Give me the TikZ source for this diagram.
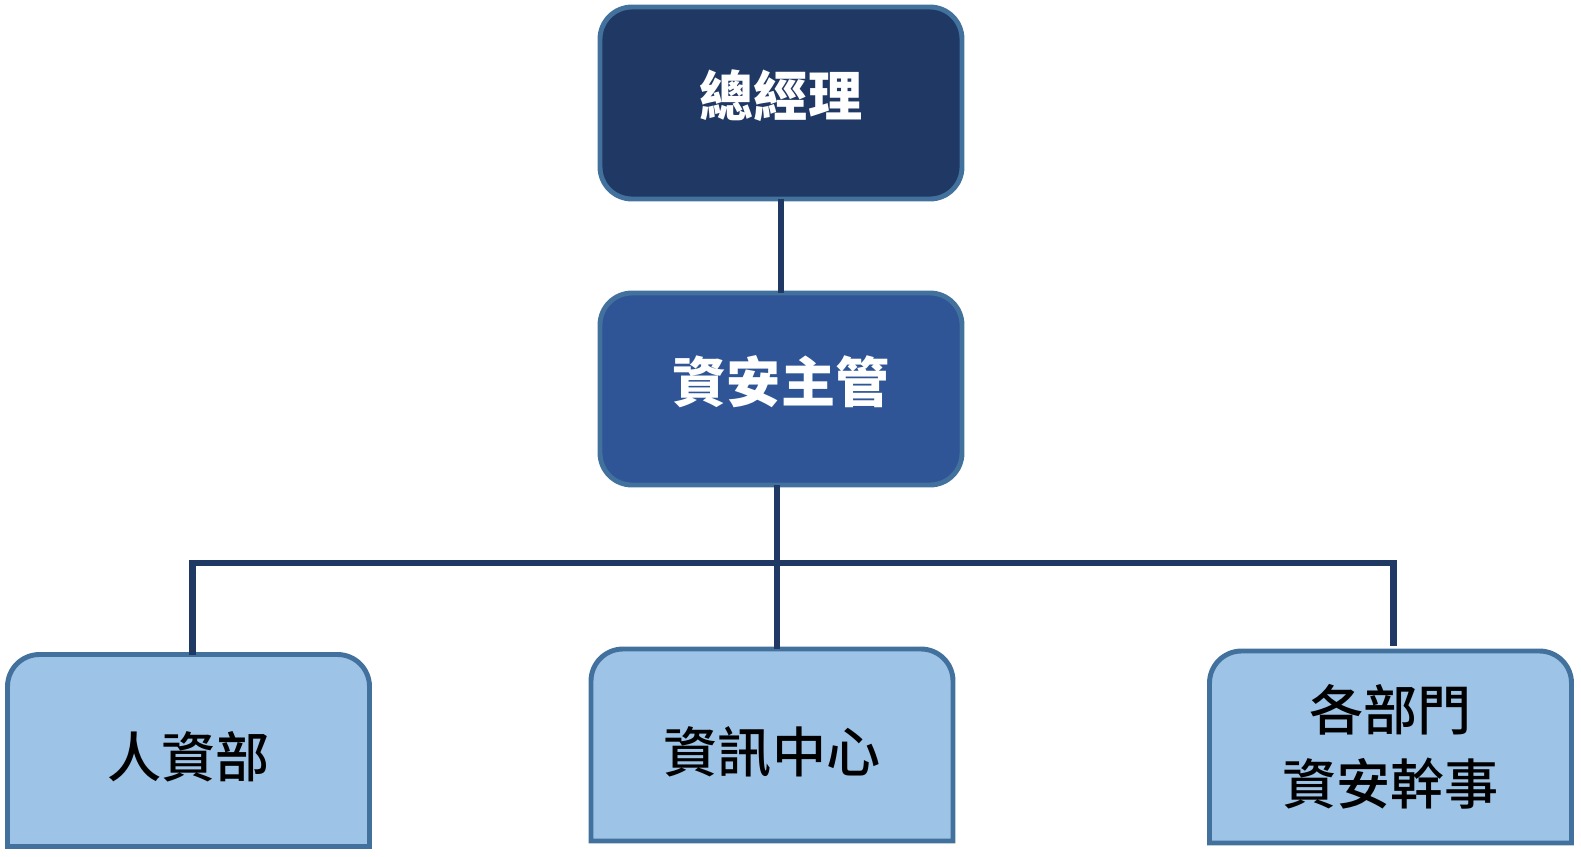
\documentclass[tikz,border=0pt]{standalone}
\usepackage{fontspec}
\newfontfamily\cjk{Noto Sans CJK TC}
\newfontfamily\cjkmed{Noto Sans CJK TC Medium}
\usepackage{tikz}
\usetikzlibrary{backgrounds}
\definecolor{navy}{HTML}{203864}
\definecolor{midblue}{HTML}{2F5597}
\definecolor{paleblue}{HTML}{9DC3E6}
\definecolor{rim}{HTML}{41719C}

\begin{document}
\begin{tikzpicture}[
  box/.style={rectangle, minimum width=3.62cm, minimum height=1.92cm, inner sep=0pt, outer sep=0pt,
    font=\cjkmed\fontsize{15.4}{21}\selectfont, align=center},
  topbox/.style={box, draw=rim, line width=1.4pt, rounded corners=.32cm, text=white,
    font=\cjk\bfseries\fontsize{15.4}{21}\selectfont, text depth=.2cm},
  lowrim/.style={draw=rim, fill=paleblue, line width=1.4pt},
  link/.style={draw=navy, line width=1.8pt}]
  \useasboundingbox (0,0) rectangle (15.81,-8.57);
  \node[topbox, fill=navy] (gm) at (7.81,-1.03) {總經理};
  \node[topbox, fill=midblue] (ciso) at (7.81,-3.89) {資安主管};
  \node[box, text height=.59cm] (hr) at (1.885,-7.505) {人資部};
  \node[box, text height=.59cm] (it) at (7.72,-7.45) {資訊中心};
  \node[box] (dept) at (13.905,-7.47) {各部門\\資安幹事};
  \begin{scope}[on background layer]
    \draw[lowrim] (hr.south west) [rounded corners=.32cm] -- (hr.north west) -- (hr.north east) [sharp corners] -- (hr.south east) -- cycle;
    \draw[lowrim] (it.south west) [rounded corners=.32cm] -- (it.north west) -- (it.north east) [sharp corners] -- (it.south east) -- cycle;
    \draw[lowrim] (dept.south west) [rounded corners=.32cm] -- (dept.north west) -- (dept.north east) [sharp corners] -- (dept.south east) -- cycle;
  \end{scope}
  \coordinate (bus) at (7.77,-5.63);
  \draw[link] (gm.south) -- (ciso.north);
  \draw[link] ([xshift=-.04cm]ciso.south) -- ([xshift=-.04cm]ciso.south |- it.north);
  \draw[link] ([xshift=.04cm]hr.north) |- (bus) -| ([xshift=.03cm,yshift=.05cm]dept.north);
\end{tikzpicture}
\end{document}
